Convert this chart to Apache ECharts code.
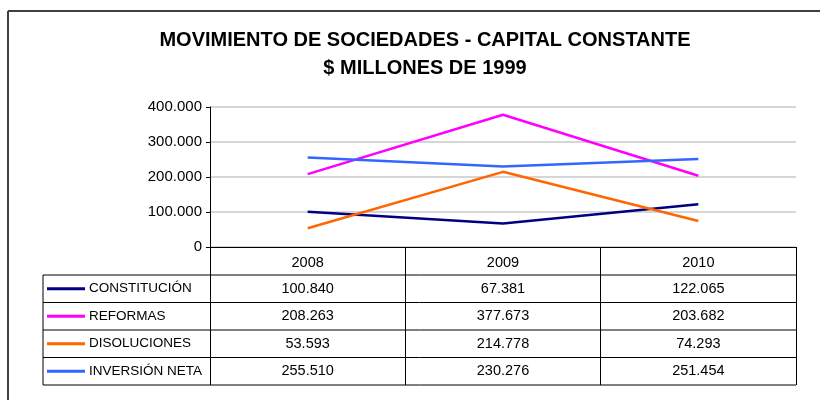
<!DOCTYPE html>
<html>
<head>
<meta charset="utf-8">
<script src="https://cdn.jsdelivr.net/npm/echarts@6/dist/echarts.min.js"></script>
<style>
html,body{margin:0;padding:0;background:#fff;}
#chart{width:820px;height:400px;}
</style>
</head>
<body>
<div id="chart"></div>
<script>
var years = ['2008', '2009', '2010'];
var seriesNames = ['CONSTITUCIÓN', 'REFORMAS', 'DISOLUCIONES', 'INVERSIÓN NETA'];
var constitucion = [100840, 67381, 122065];
var reformas = [208263, 377673, 203682];
var disoluciones = [53593, 214778, 74293];
var inversionNeta = [255510, 230276, 251454];
var colors = ['#000080', '#ff00ff', '#ff6600', '#3366ff'];

var allData = [constitucion, reformas, disoluciones, inversionNeta];

// numeros con punto de miles
function fmt(v) {
	return String(v).replace(/\B(?=(\d{3})+(?!\d))/g, '.');
}

var FONT = 'Liberation Sans, Arial, sans-serif';
var GRID_LEFT = 210, GRID_RIGHT = 796, GRID_TOP = 107, GRID_BOTTOM = 247;
var rowLines = [275, 302.5, 330, 357.5, 385];
var tableLeft = 43;

var myChart = echarts.init(document.getElementById('chart'));

var series = [];
for (var i = 0; i < seriesNames.length; i++) {
	series.push({
		name: seriesNames[i],
		type: 'line',
		data: allData[i],
		symbol: 'none',
		lineStyle: {color: colors[i], width: 2.5},
		itemStyle: {color: colors[i]},
		silent: true
	});
}

var option = {
	animation: false,
	textStyle: {fontFamily: FONT},
	title: {
		text: 'MOVIMIENTO DE SOCIEDADES - CAPITAL CONSTANTE\n$ MILLONES DE 1999',
		left: 420,
		top: 21,
		textAlign: 'center',
		textStyle: {fontSize: 20, fontWeight: 'bold', color: '#000', lineHeight: 28}
	},
	grid: {left: GRID_LEFT, right: 820 - GRID_RIGHT, top: GRID_TOP, height: GRID_BOTTOM - GRID_TOP},
	xAxis: {
		type: 'category',
		data: years,
		boundaryGap: true,
		axisLine: {lineStyle: {color: '#000', width: 1}},
		axisTick: {show: true, length: rowLines[rowLines.length - 1] - GRID_BOTTOM, lineStyle: {color: '#000'}},
		axisLabel: {show: true, margin: 8, fontSize: 14.5, color: '#000'},
		splitLine: {show: false}
	},
	yAxis: {
		type: 'value',
		min: 0,
		max: 400000,
		interval: 100000,
		axisLine: {show: true, lineStyle: {color: '#000'}},
		axisTick: {show: true, length: 4, lineStyle: {color: '#000'}},
		axisLabel: {fontSize: 15, color: '#000', margin: 8, formatter: function (v) { return fmt(v); }},
		splitLine: {lineStyle: {color: '#c8c8c8', width: 1.5}}
	},
	series: series
};
myChart.setOption(option);

// tabla de datos bajo el grafico
var g = [];
// marco exterior
g.push({type: 'line', shape: {x1: 8, y1: 11, x2: 820, y2: 11}, style: {stroke: '#404040', lineWidth: 2}});
g.push({type: 'line', shape: {x1: 8, y1: 11, x2: 8, y2: 400}, style: {stroke: '#404040', lineWidth: 2}});
for (var r = 0; r < rowLines.length; r++) {
	g.push({type: 'line', shape: {x1: tableLeft, y1: rowLines[r], x2: GRID_RIGHT, y2: rowLines[r]}, style: {stroke: '#000', lineWidth: 1}});
}
g.push({type: 'line', shape: {x1: tableLeft, y1: rowLines[0], x2: tableLeft, y2: rowLines[rowLines.length - 1]}, style: {stroke: '#000', lineWidth: 1}});
for (var s = 0; s < seriesNames.length; s++) {
	var yc = (rowLines[s] + rowLines[s + 1]) / 2;
	g.push({type: 'line', shape: {x1: 47, y1: yc, x2: 85, y2: yc}, style: {stroke: colors[s], lineWidth: 3}});
	g.push({type: 'text', x: 89, y: yc, style: {text: seriesNames[s], fill: '#000', font: '13.5px ' + FONT, textVerticalAlign: 'middle'}});
	for (var c = 0; c < years.length; c++) {
		var xc = myChart.convertToPixel({xAxisIndex: 0}, years[c]);
		g.push({type: 'text', x: xc, y: yc, style: {text: fmt(allData[s][c]), fill: '#000', font: '14.5px ' + FONT, textAlign: 'center', textVerticalAlign: 'middle'}});
	}
}
myChart.setOption({graphic: g});
</script>
</body>
</html>
